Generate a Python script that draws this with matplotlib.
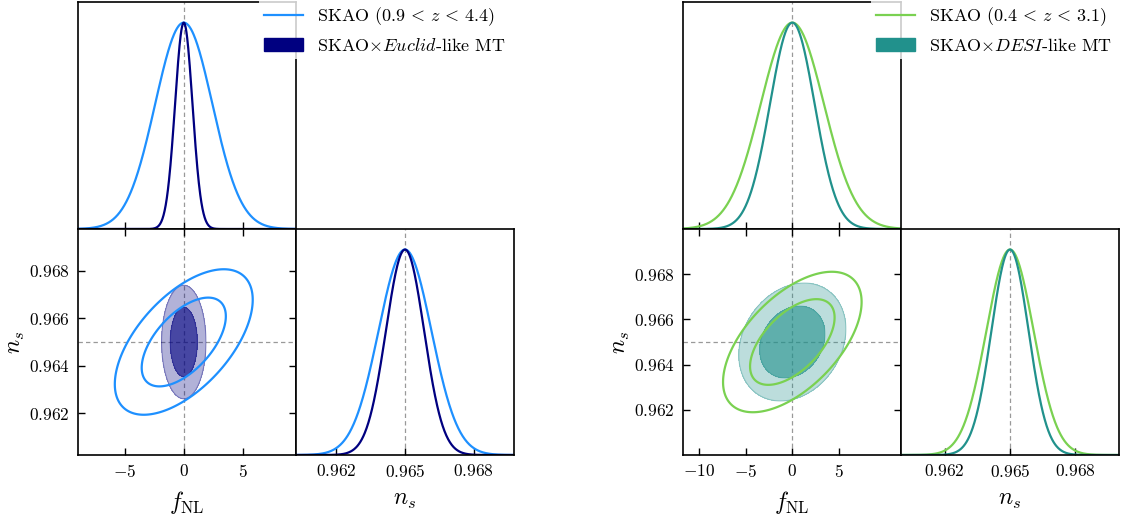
import numpy as np
import matplotlib.pyplot as plt
from matplotlib.lines import Line2D
from matplotlib.patches import Patch

plt.rcParams['font.family'] = 'serif'
plt.rcParams['font.serif'] = ['cmr10']
plt.rcParams['mathtext.fontset'] = 'cm'
plt.rcParams['axes.unicode_minus'] = False

# fiducial values
fnl_fid = 0.0
ns_fid = 0.965

# left corner plot: SKAO alone and SKAO x Euclid-like multi-tracer
left_labels = [r'SKAO $(0.9 \,<\, z \,<\, 4.4)$', r'SKAO$\times\mathit{Euclid}$-like MT']
left_colors = ['#1e90ff', '#000080']
left_filled = [False, True]
left_fnl_sig1d = [2.43, 0.74]
left_ns_sig1d = [0.00115, 0.00083]
left_fnl_sig2d = [2.36, 0.76]
left_ns_sig2d = [0.00123, 0.00096]
left_rho = [0.58, 0.0]
left_fnl_lim = (-9.0, 9.55)
left_ns_lim = (0.96025, 0.96975)
left_fnl_ticks = [-5, 0, 5]

# right corner plot: SKAO alone and SKAO x DESI-like multi-tracer
right_labels = [r'SKAO $(0.4 \,<\, z \,<\, 3.1)$', r'SKAO$\times\mathit{DESI}$-like MT']
right_colors = ['#7ad151', '#21918c']
right_filled = [False, True]
right_fnl_sig1d = [3.4, 2.4]
right_ns_sig1d = [0.00108, 0.00085]
right_fnl_sig2d = [3.0, 2.32]
right_ns_sig2d = [0.00125, 0.00105]
right_rho = [0.57, 0.22]
right_fnl_lim = (-11.77, 11.7)
right_ns_lim = (0.9600, 0.9700)
right_fnl_ticks = [-10, -5, 0, 5]

ns_yticks = [0.962, 0.964, 0.966, 0.968]
ns_xticks = [0.962, 0.965, 0.968]

# 2D gaussian levels (68% and 95%)
chi2_levels = [2.30, 6.18]

W_PX, H_PX = 1121, 521
fig = plt.figure(figsize=(W_PX / 100, H_PX / 100), dpi=100)

tick_kw = dict(direction='in', length=5, width=1.0, labelsize=12.5, pad=6)
dash_kw = dict(color='#999999', lw=0.9, ls=(0, (3.5, 2.5)), zorder=0)


def fmt(vals, nd):
    return ['$%s$' % (('%.' + str(nd) + 'f') % v) for v in vals]


def corner(x0, labels, colors, filled, fsig1, nsig1, fsig2, nsig2, rho,
           flim, nlim, fticks, legend_x):
    L = x0 / W_PX
    w = 218 / W_PX
    hb = 226 / H_PX
    ht = 227 / H_PX
    yb = 1 - 455 / H_PX
    yt = 1 - 229 / H_PX
    ax_t = fig.add_axes([L, yt, w, ht])
    ax_2d = fig.add_axes([L, yb, w, hb])
    ax_r = fig.add_axes([L + w, yb, w, hb])

    for ax in (ax_t, ax_2d, ax_r):
        for s in ax.spines.values():
            s.set_linewidth(1.2)

    xf = np.linspace(flim[0], flim[1], 600)
    xn = np.linspace(nlim[0], nlim[1], 600)

    # 1D marginals
    for c, sf, sn in zip(colors, fsig1, nsig1):
        ax_t.plot(xf, np.exp(-0.5 * ((xf - fnl_fid) / sf) ** 2), color=c, lw=1.6)
        ax_r.plot(xn, np.exp(-0.5 * ((xn - ns_fid) / sn) ** 2), color=c, lw=1.6)

    # 2D contours: filled first, line contours on top
    F, N = np.meshgrid(xf, xn)
    chis = []
    for sf, sn, r in zip(fsig2, nsig2, rho):
        u = (F - fnl_fid) / sf
        v = (N - ns_fid) / sn
        chis.append((u ** 2 - 2 * r * u * v + v ** 2) / (1 - r ** 2))
    for c, fl, chi2 in zip(colors, filled, chis):
        if fl:
            ax_2d.contourf(F, N, chi2, levels=[0, chi2_levels[1]], colors=[c], alpha=0.3, zorder=1)
            ax_2d.contourf(F, N, chi2, levels=[0, chi2_levels[0]], colors=[c], alpha=0.6, zorder=1)
            ax_2d.contour(F, N, chi2, levels=chi2_levels, colors=[c], alpha=0.35,
                          linewidths=0.8, zorder=1)
    for c, fl, chi2 in zip(colors, filled, chis):
        if not fl:
            ax_2d.contour(F, N, chi2, levels=chi2_levels, colors=[c], linewidths=1.6, zorder=2)

    # fiducial markers
    ax_t.axvline(fnl_fid, **dash_kw)
    ax_2d.axvline(fnl_fid, **dash_kw)
    ax_2d.axhline(ns_fid, **dash_kw)
    ax_r.axvline(ns_fid, **dash_kw)

    ax_t.set_xlim(flim)
    ax_t.set_ylim(0, 1.1)
    ax_t.set_xticks(fticks)
    ax_t.set_yticks([])
    ax_t.tick_params(axis='x', labelbottom=False, **tick_kw)

    ax_2d.set_xlim(flim)
    ax_2d.set_ylim(nlim)
    ax_2d.set_xticks(fticks)
    ax_2d.set_xticklabels(['$%d$' % t for t in fticks])
    ax_2d.set_yticks(ns_yticks)
    ax_2d.set_yticklabels(fmt(ns_yticks, 3))
    ax_2d.tick_params(top=True, right=True, **tick_kw)
    ax_2d.set_xlabel(r'$f_{\rm NL}$', fontsize=17, labelpad=6)
    ax_2d.set_ylabel(r'$n_s$', fontsize=17, labelpad=1)

    ax_r.set_xlim(nlim)
    ax_r.set_ylim(0, 1.1)
    ax_r.set_xticks(ns_xticks)
    ax_r.set_xticklabels(fmt(ns_xticks, 3))
    ax_r.set_yticks([])
    ax_r.tick_params(axis='x', **tick_kw)
    ax_r.set_xlabel(r'$n_s$', fontsize=17, labelpad=6)

    handles = [Line2D([], [], color=colors[0], lw=1.6),
               Patch(facecolor=colors[1], edgecolor=colors[1])]
    fig.legend(handles, labels, loc='upper left',
               bbox_to_anchor=(legend_x / W_PX, 1.0), borderaxespad=0,
               fontsize=13, frameon=True, framealpha=0.8, edgecolor='none',
               fancybox=False, handlelength=2.16, handleheight=0.74,
               handletextpad=0.76, labelspacing=0.48, borderpad=0.3)


corner(78, left_labels, left_colors, left_filled, left_fnl_sig1d, left_ns_sig1d,
       left_fnl_sig2d, left_ns_sig2d, left_rho, left_fnl_lim, left_ns_lim,
       left_fnl_ticks, 258.5)
corner(683, right_labels, right_colors, right_filled, right_fnl_sig1d, right_ns_sig1d,
       right_fnl_sig2d, right_ns_sig2d, right_rho, right_fnl_lim, right_ns_lim,
       right_fnl_ticks, 870.5)

fig.savefig('out.png', dpi=100)
